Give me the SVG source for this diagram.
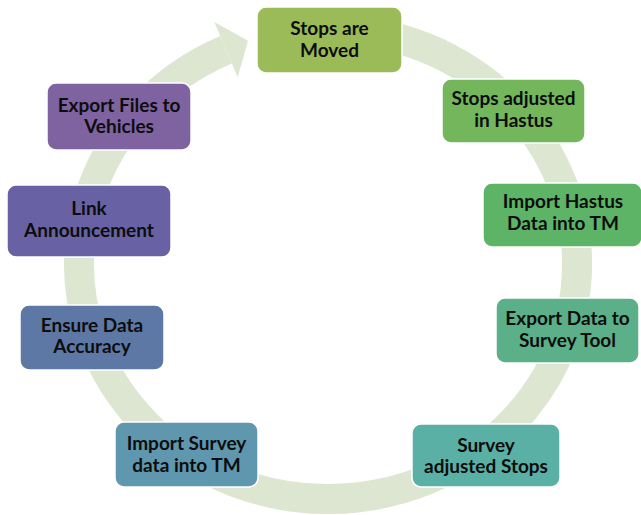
<svg xmlns="http://www.w3.org/2000/svg" width="641" height="515" viewBox="0 0 641 515">
<style>
.box{stroke:#ffffff;stroke-width:1.5}
.lbl{font-family:Lato,"Open Sans","Liberation Sans",sans-serif;font-weight:bold;font-size:19px;fill:#0d0d0d;text-anchor:middle}
.ring{fill:none;stroke:#dde6d1;stroke-width:30}
</style>
<rect width="641" height="515" fill="#ffffff"/>
<g id="connectors">
<path class="ring" d="M 371.2 32.6 A 249 235 0 1 1 226 49.7"/>
<polygon points="214.3,22.1 248,40.7 237.7,77.3" fill="#dde6d1"/>
</g>
<g id="n1"><rect class="box" x="257" y="7" width="145" height="66" rx="9" fill="#9bbb59"/><text class="lbl" x="329.5" y="35">Stops are</text><text class="lbl" x="329.5" y="57">Moved</text></g>
<g id="n2"><rect class="box" x="442" y="79" width="143" height="64" rx="9" fill="#74b65c"/><text class="lbl" x="513.5" y="105">Stops adjusted</text><text class="lbl" x="513.5" y="127">in Hastus</text></g>
<g id="n3"><rect class="box" x="483" y="183" width="159" height="64" rx="9" fill="#5db467"/><text class="lbl" x="563" y="208">Import Hastus</text><text class="lbl" x="563" y="230">Data into TM</text></g>
<g id="n4"><rect class="box" x="496" y="298" width="143" height="65" rx="9" fill="#5bb08a"/><text class="lbl" x="567.5" y="325">Export Data to</text><text class="lbl" x="567.5" y="347">Survey Tool</text></g>
<g id="n5"><rect class="box" x="412" y="424" width="148" height="63" rx="9" fill="#5bb0a5"/><text class="lbl" x="486" y="452">Survey</text><text class="lbl" x="486" y="473">adjusted Stops</text></g>
<g id="n6"><rect class="box" x="115" y="422" width="143" height="65" rx="9" fill="#5f97ae"/><text class="lbl" x="186.5" y="450">Import Survey</text><text class="lbl" x="186.5" y="472">data into TM</text></g>
<g id="n7"><rect class="box" x="20" y="305" width="144" height="65" rx="9" fill="#5e78a6"/><text class="lbl" x="92" y="332">Ensure Data</text><text class="lbl" x="92" y="353">Accuracy</text></g>
<g id="n8"><rect class="box" x="7" y="185" width="164" height="72" rx="9" fill="#6862a4"/><text class="lbl" x="89" y="215">Link</text><text class="lbl" x="89" y="237">Announcement</text></g>
<g id="n9"><rect class="box" x="47" y="83" width="144" height="67" rx="9" fill="#7f63a0"/><text class="lbl" x="119" y="112">Export Files to</text><text class="lbl" x="119" y="133">Vehicles</text></g>
</svg>
